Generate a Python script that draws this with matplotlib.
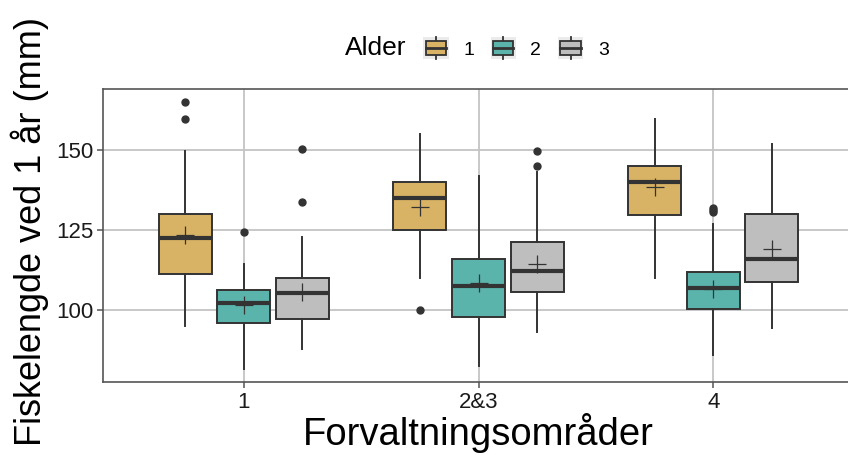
import matplotlib
matplotlib.use("Agg")
import matplotlib.pyplot as plt
from matplotlib.patches import Rectangle, Patch
from matplotlib.lines import Line2D
from matplotlib.legend_handler import HandlerBase

plt.rcParams['font.family'] = ['Liberation Sans', 'DejaVu Sans']

# Forvaltningsområder og aldersgrupper
areas = ['1', '2&3', '4']
ages = ['1', '2', '3']
colors = ['#D8B365', '#5AB4AC', '#BEBEBE']

# Boksplott-statistikk: rad = område, kolonne = alder
whislo = [[95.0, 81.5, 87.7], [110.0, 82.5, 93.0], [110.0, 85.9, 94.5]]
q1 = [[111.3, 95.8, 97.1], [124.9, 97.7, 105.5], [129.8, 100.4, 108.8]]
med = [[122.5, 102.1, 105.2], [134.9, 107.6, 112.3], [139.9, 107.0, 115.8]]
q3 = [[129.9, 106.3, 109.9], [139.9, 116.0, 121.2], [144.9, 112.0, 130.1]]
whishi = [[149.8, 114.3, 122.9], [154.9, 142.0, 143.2], [159.7, 126.9, 151.8]]
means = [[123.4, 101.7, 105.6], [132.3, 108.5, 114.3], [138.5, 106.6, 119.0]]
fliers = [[[164.9, 159.8], [124.3], [150.4, 133.8]],
          [[100.0], [], [149.6, 145.0]],
          [[], [131.8, 131.2, 130.6], []]]

dodge = 0.25
box_w = 0.225
edge = '#333333'


class BoxKey(HandlerBase):
    # legendnøkkel som ligner en liten boks med median og whisker
    def create_artists(self, legend, orig_handle, xdescent, ydescent,
                       width, height, fontsize, trans):
        x0, y0 = -xdescent, -ydescent
        bg = Rectangle((x0, y0), width, height, fc='#EBEBEB', ec='none',
                       transform=trans)
        bw, bh = width * 0.8, height * 0.62
        bx, by = x0 + (width - bw) / 2, y0 + (height - bh) / 2
        box = Rectangle((bx, by), bw, bh, fc=orig_handle.get_facecolor(),
                        ec=edge, lw=1.3, transform=trans)
        cx, cy = x0 + width / 2, y0 + height / 2
        vline = Line2D([cx, cx], [y0 - height * 0.02, y0 + height * 1.02],
                       color=edge, lw=1.3, transform=trans)
        hline = Line2D([bx, bx + bw], [cy, cy], color=edge, lw=2,
                       transform=trans)
        return [bg, vline, box, hline]


fig = plt.figure(figsize=(8.48, 4.55), dpi=100)
ax = fig.add_axes([103 / 848, 73 / 455, 751 / 848, 293 / 455])

for j, age in enumerate(ages):
    stats = []
    pos = []
    for i in range(len(areas)):
        stats.append(dict(whislo=whislo[i][j], q1=q1[i][j], med=med[i][j],
                          q3=q3[i][j], whishi=whishi[i][j], mean=means[i][j],
                          fliers=fliers[i][j]))
        pos.append(i + 1 + (j - 1) * dodge)
    ax.bxp(stats, positions=pos, widths=box_w, patch_artist=True,
           showmeans=True, showcaps=False, zorder=3,
           boxprops=dict(facecolor=colors[j], edgecolor=edge, linewidth=1.4),
           medianprops=dict(color=edge, linewidth=3),
           whiskerprops=dict(color=edge, linewidth=1.4),
           meanprops=dict(marker='+', markersize=13, markeredgecolor=edge,
                          markeredgewidth=0.9),
           flierprops=dict(marker='o', markersize=5, markerfacecolor=edge,
                           markeredgecolor=edge))

ax.set_xlim(0.4, 3.6)
ax.set_ylim(77.5, 169.1)
ax.set_xticks([1, 2, 3])
ax.set_xticklabels(areas)
ax.set_yticks([100, 125, 150])
ax.grid(True, color='#C4C4C4', linewidth=1.3, zorder=0)
ax.set_axisbelow(True)
for s in ax.spines.values():
    s.set_color('#555555')
    s.set_linewidth(1.2)
ax.tick_params(axis='both', labelsize=16, colors='#555555', length=4,
               width=1.1, labelcolor='#1A1A1A', pad=3)

ax.set_xlabel('Forvaltningsområder', fontsize=27.5, labelpad=0)
ax.set_ylabel('Fiskelengde ved 1 år (mm)', fontsize=26)
ax.yaxis.set_label_coords(-0.072, 0.515)

handles = [Patch(facecolor=c) for c in colors]
fig.text(376 / 848, 1 - 48 / 455, 'Alder', fontsize=19, ha='center',
         va='center')
fig.legend(handles, ages, handler_map={Patch: BoxKey()}, ncol=3,
           loc='center', bbox_to_anchor=(516 / 848, 1 - 48 / 455),
           frameon=False, fontsize=14, handlelength=1.3, handleheight=1.3,
           handletextpad=0.75, columnspacing=0.85, borderpad=0)

fig.savefig('out.png', dpi=100)
